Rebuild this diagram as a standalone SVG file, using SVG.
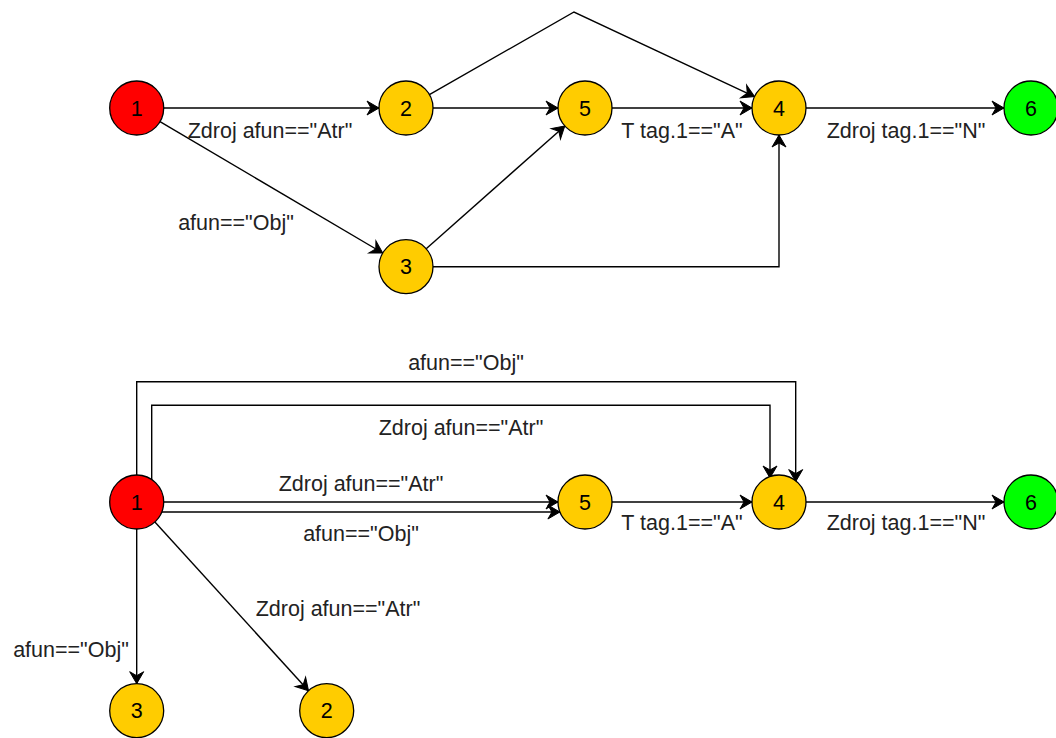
<svg xmlns="http://www.w3.org/2000/svg" width="1056" height="738" viewBox="0 0 1056 738">
  <style>
    .node circle { stroke: #000; stroke-width: 1.3; }
    .start { fill: #FF0000; }
    .mid { fill: #FFCC00; }
    .end { fill: #00FF00; }
    text { font-family: "Liberation Sans", Arial, sans-serif; font-size: 21.5px; text-anchor: middle; }
    .node text { fill: #000; }
    .lbl { fill: #222; }
    .edge { fill: none; stroke: #000; stroke-width: 1.4; marker-end: url(#arrow); }
  </style>
  <defs>
    <marker id="arrow" markerUnits="userSpaceOnUse" markerWidth="16" markerHeight="18" viewBox="-13 -9 14 18" refX="0" refY="0" orient="auto">
      <path d="M0,0 L-12,-7 L-8,0 L-12,7 Z" fill="#000" stroke="#000" stroke-width="1"/>
    </marker>
  </defs>
  <rect width="1056" height="738" fill="#fff"/>

  <!-- upper graph: connectors -->
  <g id="edges-top">
    <path class="edge" d="M163.7,108 L379,108"/>
    <path class="edge" d="M160,121.7 L382.7,253"/>
    <path class="edge" d="M433,108 L558,108"/>
    <path class="edge" d="M426.2,248.8 L564.8,125.9"/>
    <path class="edge" d="M429.4,94.6 L574,12 L754.5,96.6"/>
    <path class="edge" d="M612,108 L752,108"/>
    <path class="edge" d="M433,266.7 L779,266.7 L779,135"/>
    <path class="edge" d="M806,108 L1004,108"/>
    <text class="lbl" x="270" y="138">Zdroj afun=="Atr"</text>
    <text class="lbl" x="236" y="230">afun=="Obj"</text>
    <text class="lbl" x="682" y="138">T tag.1=="A"</text>
    <text class="lbl" x="906" y="138">Zdroj tag.1=="N"</text>
  </g>

  <!-- upper graph: nodes -->
  <g id="t1" class="node"><circle class="start" cx="136.7" cy="108" r="27"/><text x="136.7" y="115.5">1</text></g>
  <g id="t2" class="node"><circle class="mid" cx="406" cy="108" r="27"/><text x="406" y="115.5">2</text></g>
  <g id="t3" class="node"><circle class="mid" cx="406" cy="266.7" r="27"/><text x="406" y="274.2">3</text></g>
  <g id="t5" class="node"><circle class="mid" cx="585" cy="108" r="27"/><text x="585" y="115.5">5</text></g>
  <g id="t4" class="node"><circle class="mid" cx="779" cy="108" r="27"/><text x="779" y="115.5">4</text></g>
  <g id="t6" class="node"><circle class="end" cx="1031" cy="108" r="27"/><text x="1031" y="115.5">6</text></g>

  <!-- lower graph: connectors -->
  <g id="edges-bottom">
    <path class="edge" d="M136.7,475 L136.7,381.7 L795.7,381.7 L795.7,481.6"/>
    <path class="edge" d="M151.7,479.6 L151.7,405.3 L770,405.3 L770,478"/>
    <path class="edge" d="M163.7,502 L558,502"/>
    <path class="edge" d="M161.8,512 L559.9,512"/>
    <path class="edge" d="M612,502 L752,502"/>
    <path class="edge" d="M806,502 L1004,502"/>
    <path class="edge" d="M136.7,529 L136.7,683.7"/>
    <path class="edge" d="M154.9,522 L308.5,690.7"/>
    <text class="lbl" x="466" y="370">afun=="Obj"</text>
    <text class="lbl" x="461" y="435">Zdroj afun=="Atr"</text>
    <text class="lbl" x="361" y="491">Zdroj afun=="Atr"</text>
    <text class="lbl" x="361" y="541">afun=="Obj"</text>
    <text class="lbl" x="682" y="530">T tag.1=="A"</text>
    <text class="lbl" x="906" y="530">Zdroj tag.1=="N"</text>
    <text class="lbl" x="338" y="616">Zdroj afun=="Atr"</text>
    <text class="lbl" x="71" y="657">afun=="Obj"</text>
  </g>

  <!-- lower graph: nodes -->
  <g id="b1" class="node"><circle class="start" cx="136.7" cy="502" r="27"/><text x="136.7" y="509.5">1</text></g>
  <g id="b5" class="node"><circle class="mid" cx="585" cy="502" r="27"/><text x="585" y="509.5">5</text></g>
  <g id="b4" class="node"><circle class="mid" cx="779" cy="502" r="27"/><text x="779" y="509.5">4</text></g>
  <g id="b6" class="node"><circle class="end" cx="1031" cy="502" r="27"/><text x="1031" y="509.5">6</text></g>
  <g id="b3" class="node"><circle class="mid" cx="136.7" cy="710.7" r="27"/><text x="136.7" y="718.2">3</text></g>
  <g id="b2" class="node"><circle class="mid" cx="326.7" cy="710.7" r="27"/><text x="326.7" y="718.2">2</text></g>
</svg>
